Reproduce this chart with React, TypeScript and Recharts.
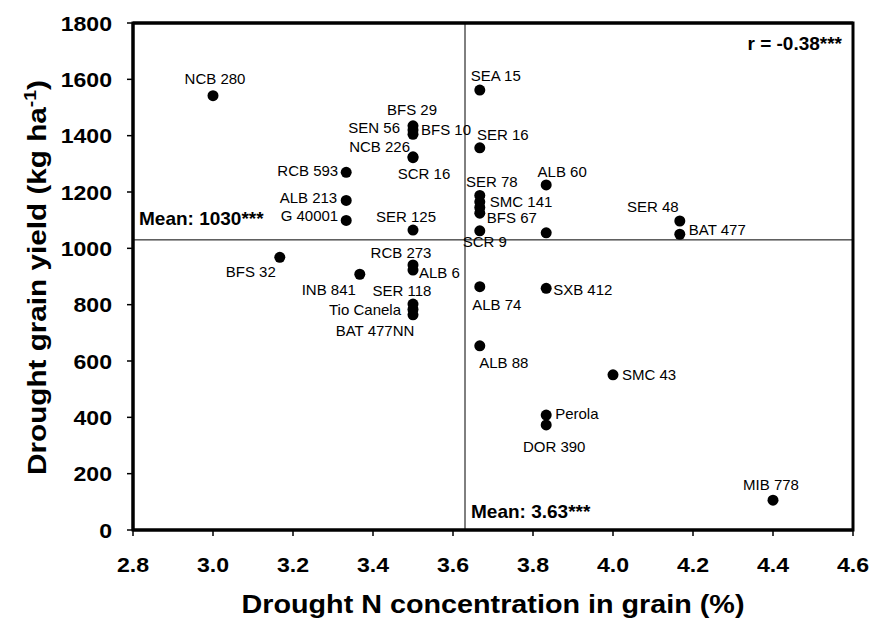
import {
  ScatterChart,
  Scatter,
  XAxis,
  YAxis,
  ReferenceLine,
} from 'recharts';

// genotype names, drought N concentration in grain (%) and drought grain yield (kg/ha)
const genotypes = [
  'NCB 280', 'SEA 15', 'BFS 29', 'SEN 56', 'BFS 10', 'NCB 226', 'SCR 16', 'SER 16',
  'RCB 593', 'ALB 213', 'G 40001', 'SER 125', 'SER 78', 'SMC 141', '', 'BFS 67',
  'SCR 9', ' ', 'ALB 60', 'SER 48', 'BAT 477', 'BFS 32', 'INB 841', 'RCB 273',
  'ALB 6', 'SER 118', 'Tio Canela', 'BAT 477NN', 'ALB 74', 'SXB 412', 'ALB 88',
  'SMC 43', 'Perola', 'DOR 390', 'MIB 778',
];
const nConcentration = [
  3.0, 3.667, 3.5, 3.5, 3.5, 3.5, 3.5, 3.667,
  3.333, 3.333, 3.333, 3.5, 3.667, 3.667, 3.667, 3.667,
  3.667, 3.833, 3.833, 4.167, 4.167, 3.167, 3.367, 3.5,
  3.5, 3.5, 3.5, 3.5, 3.667, 3.833, 3.667,
  4.0, 3.833, 3.833, 4.4,
];
const grainYield = [
  1542, 1562, 1435, 1420, 1405, 1325, 1322, 1357,
  1270, 1170, 1099, 1065, 1188, 1165, 1145, 1125,
  1062, 1055, 1225, 1097, 1050, 968, 908, 941,
  923, 802, 783, 764, 864, 858, 654,
  551, 408, 373, 106,
];
const xTicks = [2.8, 3.0, 3.2, 3.4, 3.6, 3.8, 4.0, 4.2, 4.4, 4.6];
const yTicks = [0, 200, 400, 600, 800, 1000, 1200, 1400, 1600, 1800];
const xDomain = [2.8, 4.6];
const yDomain = [0, 1800];
const meanN = 3.63;
const meanYield = 1030;

const points = genotypes.map((name, i) => ({
  name,
  x: nConcentration[i],
  y: grainYield[i],
}));

// label offset from the dot centre: dx, dy (baseline), anchor
const labelPos: Record<string, [number, number, string]> = {
  'NCB 280': [2, -12, 'middle'],
  'SEA 15': [16, -9, 'middle'],
  'BFS 29': [-1, -11, 'middle'],
  'SEN 56': [-13, 3, 'end'],
  'BFS 10': [8, 1, 'start'],
  'NCB 226': [-3, -5, 'end'],
  'SCR 16': [11, 21, 'middle'],
  'SER 16': [23, -8, 'middle'],
  'RCB 593': [-8, 4, 'end'],
  'ALB 213': [-9, 3, 'end'],
  'G 40001': [-8, 1, 'end'],
  'SER 125': [-7, -8, 'middle'],
  'SER 78': [12, -8, 'middle'],
  'SMC 141': [10, 5, 'start'],
  'BFS 67': [7, 10, 'start'],
  'SCR 9': [5, 16, 'middle'],
  'ALB 60': [16, -8, 'middle'],
  'SER 48': [-27, -9, 'middle'],
  'BAT 477': [9, 1, 'start'],
  'BFS 32': [-29, 20, 'middle'],
  'INB 841': [-31, 21, 'middle'],
  'RCB 273': [-12, -7, 'middle'],
  'ALB 6': [6, 8, 'start'],
  'SER 118': [-11, -8, 'middle'],
  'Tio Canela': [-12, 6, 'end'],
  'BAT 477NN': [-38, 21, 'middle'],
  'ALB 74': [17, 23, 'middle'],
  'SXB 412': [7, 7, 'start'],
  'ALB 88': [24, 22, 'middle'],
  'SMC 43': [9, 5, 'start'],
  Perola: [9, 4, 'start'],
  'DOR 390': [8, 27, 'middle'],
  'MIB 778': [-2, -10, 'middle'],
};

const FONT = "'Liberation Sans', Arial, sans-serif";

// layout of the chart; the plot frame is derived from these
const W = 873;
const H = 620;
const margin = { top: 23, right: 20, bottom: 0, left: 0 };
const yAxisWidth = 133;
const xAxisHeight = 90;
const plot = {
  x: margin.left + yAxisWidth,
  y: margin.top,
  w: W - margin.left - yAxisWidth - margin.right,
  h: H - margin.top - margin.bottom - xAxisHeight,
};

const Dot = (props: any) => {
  const { cx, cy } = props;
  return <circle cx={cx} cy={cy} r={5.5} fill="#000" />;
};

const PointLabel = (props: any) => {
  const { cx, cy, payload } = props;
  const pos = labelPos[payload?.name];
  if (!pos) return <g />;
  return (
    <text
      x={cx + pos[0]}
      y={cy + pos[1]}
      textAnchor={pos[2] as any}
      fontFamily={FONT}
      fontSize={15}
      fill="#000"
    >
      {payload.name}
    </text>
  );
};

const XTick = (props: any) => {
  const { x, y, payload } = props;
  return (
    <g transform={`translate(${x},${y})`}>
      <text
        dy="0.71em"
        textAnchor="middle"
        transform="scale(1.1,1)"
        fontFamily={FONT}
        fontWeight="bold"
        fontSize={21}
        fill="#000"
      >
        {Number(payload.value).toFixed(1)}
      </text>
    </g>
  );
};

const YTick = (props: any) => {
  const { x, y, payload } = props;
  return (
    <g transform={`translate(${x},${y})`}>
      <text
        dy="0.36em"
        textAnchor="end"
        transform="scale(1.1,1)"
        fontFamily={FONT}
        fontWeight="bold"
        fontSize={21}
        fill="#000"
      >
        {payload.value}
      </text>
    </g>
  );
};

const XTitle = (props: any) => {
  const { viewBox } = props;
  return (
    <text
      x={viewBox.x + viewBox.width / 2}
      y={viewBox.y + 83}
      textAnchor="middle"
      textLength={503}
      lengthAdjust="spacingAndGlyphs"
      fontFamily={FONT}
      fontWeight="bold"
      fontSize={26}
      fill="#000"
    >
      Drought N concentration in grain (%)
    </text>
  );
};

const YTitle = (props: any) => {
  const { viewBox } = props;
  const cx = 46;
  const cy = viewBox.y + viewBox.height / 2 + 1;
  return (
    <text
      transform={`translate(${cx},${cy}) rotate(-90)`}
      textAnchor="middle"
      textLength={395}
      lengthAdjust="spacingAndGlyphs"
      fontFamily={FONT}
      fontWeight="bold"
      fontSize={26}
      fill="#000"
    >
      Drought grain yield (kg ha
      <tspan fontSize={17} dy={-10}>
        -1
      </tspan>
      <tspan dy={10}>)</tspan>
    </text>
  );
};

const boldText = (x: number, y: number, value: string, anchor = 'start') => (
  <text
    x={x}
    y={y}
    textAnchor={anchor as any}
    fontFamily={FONT}
    fontWeight="bold"
    fontSize={19}
    fill="#000"
  >
    {value}
  </text>
);

const frameLine = { stroke: '#000', strokeWidth: 3 };

export default function App() {
  return (
    <div style={{ position: 'absolute', left: 0, top: 0, width: W, height: H }}>
      <ScatterChart width={W} height={H} margin={margin}>
        <XAxis
          type="number"
          dataKey="x"
          domain={xDomain}
          ticks={xTicks}
          interval={0}
          height={xAxisHeight}
          axisLine={frameLine}
          tickLine={{ stroke: '#000', strokeWidth: 1.5 }}
          tickSize={6}
          tickMargin={21}
          tick={<XTick />}
          label={<XTitle />}
          allowDataOverflow
        />
        <YAxis
          type="number"
          dataKey="y"
          domain={yDomain}
          ticks={yTicks}
          interval={0}
          width={yAxisWidth}
          axisLine={frameLine}
          tickLine={{ stroke: '#000', strokeWidth: 1.5 }}
          tickSize={6}
          tickMargin={15}
          tick={<YTick />}
          label={<YTitle />}
          allowDataOverflow
        />
        <ReferenceLine
          segment={[
            { x: xDomain[0], y: yDomain[1] },
            { x: xDomain[1], y: yDomain[1] },
          ]}
          stroke="#000"
          strokeWidth={3}
          label={(p: any) =>
            boldText(p.viewBox.x + p.viewBox.width - 11, p.viewBox.y + 27, 'r = -0.38***', 'end')
          }
        />
        <ReferenceLine
          x={meanN}
          stroke="#000"
          strokeWidth={1}
          label={(p: any) =>
            boldText(p.viewBox.x + 6, p.viewBox.y + p.viewBox.height - 12, `Mean: ${meanN}***`)
          }
        />
        <ReferenceLine
          y={meanYield}
          stroke="#000"
          strokeWidth={1}
          label={(p: any) => boldText(p.viewBox.x + 6, p.viewBox.y - 15, `Mean: ${meanYield}***`)}
        />
        <Scatter data={points} shape={<Dot />} isAnimationActive={false} />
        <Scatter data={points} shape={<PointLabel />} isAnimationActive={false} />
      </ScatterChart>
      {/* box round the plot area */}
      <svg
        width={W}
        height={H}
        style={{ position: 'absolute', left: 0, top: 0, pointerEvents: 'none' }}
      >
        <rect
          x={plot.x}
          y={plot.y}
          width={plot.w}
          height={plot.h}
          fill="none"
          stroke="#000"
          strokeWidth={3}
        />
      </svg>
    </div>
  );
}
